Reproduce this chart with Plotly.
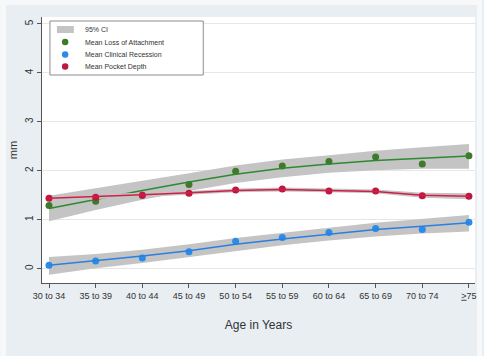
import plotly.graph_objects as go

# Age groups along the x axis
ages = ["30 to 34", "35 to 39", "40 to 44", "45 to 49", "50 to 54",
        "55 to 59", "60 to 64", "65 to 69", "70 to 74", "<u>&gt;</u>75"]

# Mean loss of attachment (mm): observed means, fitted curve and 95% CI
loa_mean = [1.29, 1.38, 1.50, 1.72, 1.99, 2.10, 2.19, 2.28, 2.14, 2.31]
loa_fit = [1.23, 1.42, 1.60, 1.77, 1.93, 2.05, 2.14, 2.21, 2.26, 2.30]
loa_lo = [0.97, 1.20, 1.41, 1.59, 1.75, 1.87, 1.96, 2.01, 2.04, 2.04]
loa_hi = [1.49, 1.64, 1.79, 1.95, 2.11, 2.23, 2.32, 2.41, 2.48, 2.55]

# Mean clinical recession (mm)
rec_mean = [0.07, 0.16, 0.22, 0.35, 0.56, 0.64, 0.74, 0.82, 0.80, 0.95]
rec_fit = [0.07, 0.16, 0.26, 0.37, 0.50, 0.61, 0.71, 0.80, 0.87, 0.94]
rec_lo = [-0.12, 0.01, 0.12, 0.24, 0.37, 0.48, 0.58, 0.66, 0.72, 0.76]
rec_hi = [0.24, 0.30, 0.39, 0.50, 0.63, 0.74, 0.84, 0.94, 1.02, 1.10]

# Mean pocket depth (mm)
pd_mean = [1.44, 1.46, 1.50, 1.54, 1.61, 1.63, 1.59, 1.59, 1.49, 1.48]
pd_fit = [1.44, 1.47, 1.51, 1.55, 1.60, 1.62, 1.60, 1.58, 1.50, 1.48]
pd_lo = [1.38, 1.42, 1.47, 1.51, 1.56, 1.58, 1.56, 1.54, 1.45, 1.42]
pd_hi = [1.50, 1.52, 1.55, 1.59, 1.64, 1.66, 1.64, 1.62, 1.55, 1.54]

legend_labels = ["95% CI", "Mean Loss of Attachment",
                 "Mean Clinical Recession", "Mean Pocket Depth"]

BAND = "#c4c4c4"
series = [
    (loa_mean, loa_fit, loa_lo, loa_hi, "#3f7a2a", "#2f8a2f"),
    (rec_mean, rec_fit, rec_lo, rec_hi, "#2a8be8", "#2a7fe0"),
    (pd_mean, pd_fit, pd_lo, pd_hi, "#c0163f", "#d0204a"),
]

fig = go.Figure()
for mean, fit, lo, hi, mcol, lcol in series:
    fig.add_trace(go.Scatter(x=ages, y=lo, mode="lines", line=dict(width=0),
                             showlegend=False, hoverinfo="skip"))
    fig.add_trace(go.Scatter(x=ages, y=hi, mode="lines", line=dict(width=0),
                             fill="tonexty", fillcolor=BAND,
                             showlegend=False, hoverinfo="skip"))
    fig.add_trace(go.Scatter(x=ages, y=mean, mode="markers",
                             marker=dict(color=mcol, size=7),
                             showlegend=False))
    fig.add_trace(go.Scatter(x=ages, y=fit, mode="lines",
                             line=dict(color=lcol, width=1.5),
                             showlegend=False))

# Plot-area geometry in pixels, used to place the hand-drawn key
W, H = 484, 356
L, R, T, B = 42, 477, 17, 283


def px(xp):
    return (xp - L) / (R - L)


def py(yp):
    return (B - yp) / (B - T)


shapes = [
    # light outer frame strips
    dict(type="rect", xref="paper", yref="paper", x0=px(0), x1=px(6),
         y0=py(H), y1=py(0), fillcolor="#f6f8f9", line=dict(width=0), layer="below"),
    dict(type="rect", xref="paper", yref="paper", x0=px(0), x1=px(W),
         y0=py(5), y1=py(0), fillcolor="#f6f8f9", line=dict(width=0), layer="below"),
    dict(type="rect", xref="paper", yref="paper", x0=px(479), x1=px(W),
         y0=py(H), y1=py(0), fillcolor="#f6f8f9", line=dict(width=0), layer="below"),
    # key box
    dict(type="rect", xref="paper", yref="paper", x0=px(50), x1=px(204),
         y0=py(75), y1=py(21), fillcolor="white",
         line=dict(color="#8c8c8c", width=1)),
    dict(type="rect", xref="paper", yref="paper", x0=px(57), x1=px(74),
         y0=py(33), y1=py(26), fillcolor=BAND, line=dict(width=0)),
]
key_colors = ["#3f7a2a", "#2a8be8", "#c0163f"]
key_y = [29.5, 42, 54.5, 66.5]
for col, yy in zip(key_colors, key_y[1:]):
    shapes.append(dict(type="circle", xref="paper", yref="paper",
                       x0=px(62), x1=px(68.5), y0=py(yy + 3.2), y1=py(yy - 3.2),
                       fillcolor=col, line=dict(width=0)))

annotations = [
    dict(text=lab, xref="paper", yref="paper", x=px(83), y=py(yy),
         xanchor="left", yanchor="middle", showarrow=False,
         font=dict(size=7, color="#333333"))
    for lab, yy in zip(legend_labels, key_y)
]

fig.update_layout(
    width=W, height=H,
    margin=dict(l=L, r=W - R, t=T, b=H - B),
    paper_bgcolor="#e8eef2",
    plot_bgcolor="white",
    font=dict(family="Liberation Sans, Arial, sans-serif", color="#333333"),
    showlegend=False,
    shapes=shapes,
    annotations=annotations,
)
fig.update_xaxes(
    type="category", range=[-0.15, 9.13],
    showgrid=False, showline=True, linecolor="#555555", linewidth=1,
    ticks="outside", ticklen=4, tickcolor="#555555",
    tickfont=dict(size=9), zeroline=False,
    title=dict(text="Age in Years", font=dict(size=12), standoff=20),
)
fig.update_yaxes(
    range=[-0.29, 5.14], tickvals=[0, 1, 2, 3, 4, 5], tickangle=-90,
    showgrid=True, gridcolor="#e6e6e6", gridwidth=1,
    showline=True, linecolor="#555555", linewidth=1,
    ticks="outside", ticklen=4, tickcolor="#555555",
    tickfont=dict(size=10), zeroline=False,
    title=dict(text="mm", font=dict(size=11), standoff=4),
)

fig.write_html("out.html")
